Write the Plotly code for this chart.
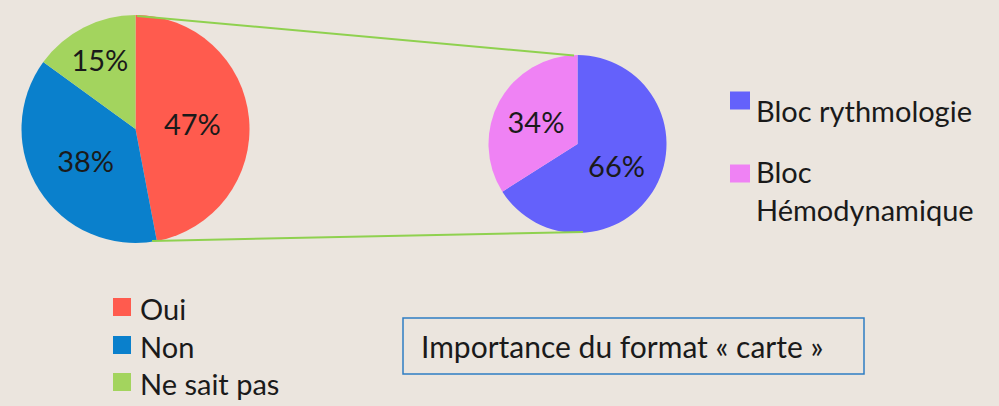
import plotly.graph_objects as go

W, H = 999, 406

# Data
main_labels = ["Oui", "Non", "Ne sait pas"]
main_values = [47, 38, 15]
main_colors = ["#ff5b4e", "#0a80cc", "#a3d45e"]

sub_labels = ["Bloc rythmologie", "Bloc<br>Hémodynamique"]
sub_values = [66, 34]
sub_colors = ["#6461fb", "#ef82f4"]

box_text = "Importance du format « carte »"

FONT = "Lato"
BG = "#ebe5de"


def px(x):
    return x / W


def py(y):
    return 1 - y / H


def dom(cx, cy, r):
    return dict(x=[px(cx - r), px(cx + r)], y=[py(cy + r), py(cy - r)])


fig = go.Figure()
fig.add_trace(go.Pie(
    labels=main_labels, values=main_values, sort=False, direction="clockwise",
    rotation=0, marker=dict(colors=main_colors, line=dict(width=0)),
    texttemplate="%{value}%", textposition="inside",
    insidetextorientation="horizontal",
    textfont=dict(family=FONT, size=29, color="#1a1a1a"),
    domain=dom(135.5, 129, 114), showlegend=False, hoverinfo="skip",
))
fig.add_trace(go.Pie(
    labels=sub_labels, values=sub_values, sort=False, direction="clockwise",
    rotation=0, marker=dict(colors=sub_colors, line=dict(width=0)),
    texttemplate="%{value}%", textposition="inside",
    insidetextorientation="horizontal",
    textfont=dict(family=FONT, size=29, color="#1a1a1a"),
    domain=dom(577.5, 144, 89), showlegend=False, hoverinfo="skip",
))

shapes = []
annotations = []

# connector lines
line_col = "#8fd14f"
shapes.append(dict(type="line", xref="paper", yref="paper",
                   x0=px(137), y0=py(16), x1=px(574), y1=py(55.5),
                   line=dict(color=line_col, width=2)))
shapes.append(dict(type="line", xref="paper", yref="paper",
                   x0=px(152), y0=py(241), x1=px(583), y1=py(232),
                   line=dict(color=line_col, width=2)))

# left legend
left_leg_y = [307, 345, 382]
for lab, col, yc in zip(main_labels, main_colors, left_leg_y):
    shapes.append(dict(type="rect", xref="paper", yref="paper",
                       x0=px(113), x1=px(131), y0=py(yc - 9), y1=py(yc + 9),
                       fillcolor=col, line=dict(width=0)))
    annotations.append(dict(text=lab, x=px(138), y=py(yc + 1), xref="paper", yref="paper",
                            xanchor="left", yanchor="middle", showarrow=False,
                            font=dict(family=FONT, size=29, color="#1a1a1a")))

# right legend
right_leg_y = [100.5, 173.5]
right_text_y = [110, 190]
for lab, col, yc, ty in zip(sub_labels, sub_colors, right_leg_y, right_text_y):
    shapes.append(dict(type="rect", xref="paper", yref="paper",
                       x0=px(730), x1=px(750), y0=py(yc - 9), y1=py(yc + 9),
                       fillcolor=col, line=dict(width=0)))
    annotations.append(dict(text=lab, x=px(754), y=py(ty), xref="paper", yref="paper",
                            xanchor="left", yanchor="middle", align="left",
                            showarrow=False,
                            font=dict(family=FONT, size=29, color="#1a1a1a")))

# box
shapes.append(dict(type="rect", xref="paper", yref="paper",
                   x0=px(403), x1=px(864), y0=py(374), y1=py(318),
                   line=dict(color="#2f7dc3", width=1.5), fillcolor="rgba(0,0,0,0)"))
annotations.append(dict(text=box_text, x=px(419), y=py(346), xref="paper", yref="paper",
                        xanchor="left", yanchor="middle", showarrow=False,
                        font=dict(family=FONT, size=30, color="#1a1a1a")))

fig.update_layout(
    width=W, height=H, margin=dict(l=0, r=0, t=0, b=0),
    paper_bgcolor=BG, plot_bgcolor=BG,
    shapes=shapes, annotations=annotations, showlegend=False,
)

fig.write_html(
    "out.html",
    config={"displayModeBar": False},
    post_script="document.body.style.margin='0';document.body.style.background='" + BG + "';",
)
